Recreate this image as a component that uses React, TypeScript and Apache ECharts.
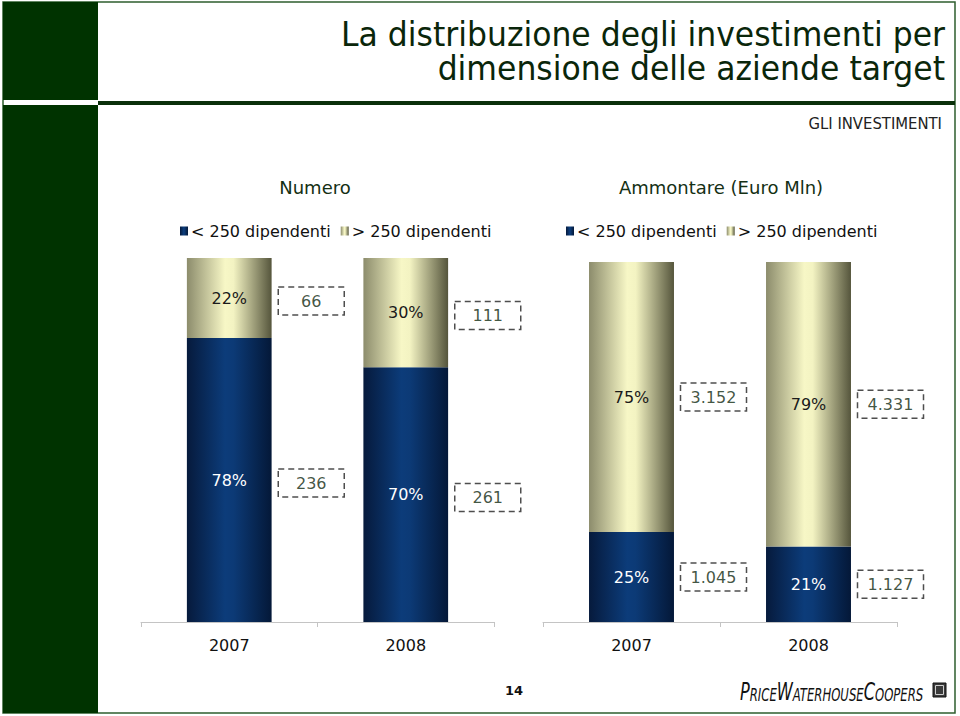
import React, { useEffect, useRef } from 'react';
import * as echarts from 'echarts';

const categories = ['2007', '2008'];
const legendNames = ['< 250 dipendenti', '> 250 dipendenti'];
const numeroPctSmall = [78, 70];
const numeroPctLarge = [22, 30];
const numeroSmall = [236, 261];
const numeroLarge = [66, 111];
const ammPctSmall = [25, 21];
const ammPctLarge = [75, 79];
const ammSmall = [1045, 1127];
const ammLarge = [3152, 4331];

const FONT = '"DejaVu Sans", Verdana, sans-serif';
const COND = '"DejaVu Sans Condensed", "Liberation Sans", sans-serif';
const GREEN = '#003300';

const fmt = (n: number) =>
  n >= 1000 ? `${Math.floor(n / 1000)}.${String(n % 1000).padStart(3, '0')}` : String(n);

const blueGrad = () =>
  new echarts.graphic.LinearGradient(0, 0, 1, 0, [
    { offset: 0, color: '#061a3c' },
    { offset: 0.45, color: '#0c3c7a' },
    { offset: 0.55, color: '#0c3a76' },
    { offset: 1, color: '#041838' },
  ]);
const beigeGrad = () =>
  new echarts.graphic.LinearGradient(0, 0, 1, 0, [
    { offset: 0, color: '#8c8c6c' },
    { offset: 0.45, color: '#f7f7c6' },
    { offset: 0.55, color: '#f3f3c2' },
    { offset: 1, color: '#55553c' },
  ]);

function chartSeries(
  g: number,
  pSmall: number[],
  pLarge: number[],
  cSmall: number[],
  cLarge: number[],
  dy: number
) {
  const boxLabel = {
    show: true,
    position: 'inside',
    offset: [82, dy],
    formatter: (p: any) => fmt(p.value[2]),
    fontSize: 16,
    fontFamily: FONT,
    color: '#102a10',
    borderColor: '#222',
    borderWidth: 1.5,
    borderType: [6, 4],
    width: 66,
    height: 28,
    lineHeight: 28,
    align: 'center',
    verticalAlign: 'middle',
    padding: 0,
  };
  return [
    {
      name: legendNames[0],
      type: 'bar',
      stack: 's' + g,
      xAxisIndex: g,
      yAxisIndex: g,
      barWidth: '48%',
      data: pSmall,
      itemStyle: { color: blueGrad() },
      label: {
        show: true,
        position: 'inside',
        formatter: '{c}%',
        color: '#ffffff',
        fontSize: 16,
        fontFamily: FONT,
      },
    },
    {
      name: legendNames[1],
      type: 'bar',
      stack: 's' + g,
      xAxisIndex: g,
      yAxisIndex: g,
      barWidth: '48%',
      data: pLarge,
      itemStyle: { color: beigeGrad() },
      label: {
        show: true,
        position: 'inside',
        formatter: '{c}%',
        color: '#1a1a1a',
        fontSize: 16,
        fontFamily: FONT,
      },
    },
    {
      type: 'scatter',
      xAxisIndex: g,
      yAxisIndex: g,
      symbolSize: 1,
      itemStyle: { color: 'rgba(0,0,0,0)' },
      z: 5,
      data: [
        ...categories.map((_, i) => [i, pSmall[i] / 2, cSmall[i]]),
        ...categories.map((_, i) => [i, pSmall[i] + pLarge[i] / 2, cLarge[i]]),
      ],
      label: boxLabel,
    },
  ];
}

const axisX = (g: number) => ({
  type: 'category',
  gridIndex: g,
  data: categories,
  axisLine: { show: true, lineStyle: { color: '#c4c4c4', width: 1 } },
  axisTick: { show: true, length: 5, inside: false, lineStyle: { color: '#c4c4c4' } },
  axisLabel: { fontSize: 16, fontFamily: FONT, color: '#111', margin: 15 },
});
const axisY = (g: number) => ({
  type: 'value',
  gridIndex: g,
  min: 0,
  max: 100,
  show: false,
  splitLine: { show: false },
});

const legend = (left: number) => ({
  left,
  top: 218,
  data: legendNames,
  icon: 'rect',
  itemWidth: 8,
  itemHeight: 9,
  itemGap: 10,
  selectedMode: false,
  textStyle: { fontSize: 16, fontFamily: FONT, color: '#111', padding: [0, 0, 0, -2] },
});

const center = { align: 'center', verticalAlign: 'middle', textAlign: 'center', textVerticalAlign: 'middle' };
const right = { align: 'right', verticalAlign: 'middle', textAlign: 'right', textVerticalAlign: 'middle' };

export default function App() {
  const ref = useRef<HTMLDivElement>(null);
  useEffect(() => {
    if (!ref.current) return;
    const chart = echarts.init(ref.current, undefined, { renderer: 'svg' });
    chart.setOption({
      animation: false,
      backgroundColor: '#ffffff',
      grid: [
        { left: 141, right: 466, top: 258, bottom: 94 },
        { left: 543, right: 63, top: 262, bottom: 94 },
      ],
      xAxis: [axisX(0), axisX(1)],
      yAxis: [axisY(0), axisY(1)],
      legend: [legend(175), legend(561)],
      series: [
        ...chartSeries(0, numeroPctSmall, numeroPctLarge, numeroSmall, numeroLarge, 3),
        ...chartSeries(1, ammPctSmall, ammPctLarge, ammSmall, ammLarge, 0),
      ],
      graphic: [
        { type: 'rect', shape: { x: 3, y: 2, width: 952, height: 711 }, style: { fill: 'none', stroke: '#2e5e2e', lineWidth: 1.5 }, silent: true },
        { type: 'rect', shape: { x: 3, y: 2, width: 95, height: 98 }, style: { fill: GREEN } },
        { type: 'rect', shape: { x: 3, y: 105, width: 95, height: 608 }, style: { fill: GREEN } },
        { type: 'rect', shape: { x: 98, y: 101, width: 857, height: 4 }, style: { fill: '#0a300a' } },
        {
          type: 'text', x: 945, y: 34, scaleX: 1.06,
          style: { text: 'La distribuzione degli investimenti per', fill: '#0a260a', fontSize: 33, lineHeight: 33, fontFamily: COND, ...right },
        },
        {
          type: 'text', x: 945, y: 68, scaleX: 1.06,
          style: { text: 'dimensione delle aziende target', fill: '#0a260a', fontSize: 33, lineHeight: 33, fontFamily: COND, ...right },
        },
        {
          type: 'text', x: 942, y: 123,
          style: { text: 'GLI INVESTIMENTI', fill: '#222', fontSize: 16.5, fontFamily: COND, ...right },
        },
        {
          type: 'text', x: 315, y: 187,
          style: { text: 'Numero', fill: '#143014', fontSize: 18, fontFamily: FONT, ...center },
        },
        {
          type: 'text', x: 721, y: 187,
          style: { text: 'Ammontare (Euro Mln)', fill: '#143014', fontSize: 18, fontFamily: FONT, ...center },
        },
        {
          type: 'text', x: 514, y: 690,
          style: { text: '14', fill: '#111', fontSize: 13, fontWeight: 'bold', fontFamily: FONT, ...center },
        },
        {
          type: 'text', x: 740, y: 691, scaleX: 0.72,
          style: {
            text: '{b|P}{s|RICE}{b|W}{s|ATERHOUSE}{b|C}{s|OOPERS}',
            fill: '#111',
            align: 'left', verticalAlign: 'middle', textAlign: 'left', textVerticalAlign: 'middle',
            rich: {
              b: { fontSize: 25, fontStyle: 'italic', fontFamily: COND, fill: '#111', verticalAlign: 'bottom' },
              s: { fontSize: 18, fontStyle: 'italic', fontFamily: COND, fill: '#111', verticalAlign: 'bottom' },
            },
          },
        },
        { type: 'rect', shape: { x: 933, y: 683, width: 13, height: 14 }, style: { fill: '#3a3a3a', stroke: '#111', lineWidth: 1 } },
        { type: 'rect', shape: { x: 935.5, y: 685.5, width: 8, height: 9 }, style: { fill: 'none', stroke: '#cfcfcf', lineWidth: 1 } },
      ],
    });
    return () => chart.dispose();
  }, []);
  return (
    <div
      ref={ref}
      style={{ position: 'fixed', left: 0, top: 0, width: 960, height: 716, background: '#fff' }}
    />
  );
}
